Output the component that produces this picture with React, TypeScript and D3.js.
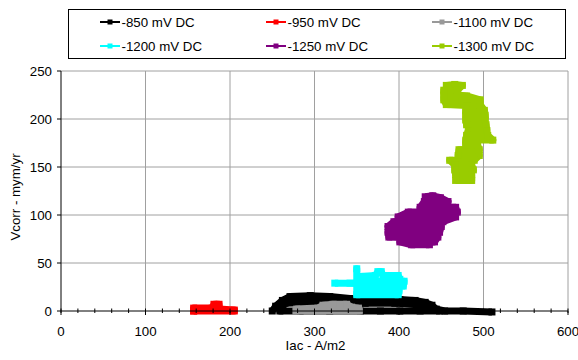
import React from "react";
import * as d3 from "d3";

// Iac (A/m2) vs corrosion rate (mym/yr) for each DC polarisation level
type Pt = [number, number];

const seriesNames = ["-850 mV DC", "-950 mV DC", "-1100 mV DC", "-1200 mV DC", "-1250 mV DC", "-1300 mV DC"];
const seriesColors = ["#000000", "#ff0000", "#999999", "#00ffff", "#800080", "#99cc00"];

const dc850: Pt[] = [
  [250, 0], [254, 5], [262, 11], [271, 15], [295, 16], [318, 15], [342, 13], [372, 12], [401, 12],
  [419, 11], [431, 9], [439, 6], [444, 2], [448, 0], [425, 0], [401, 0], [378, 0], [354, 0], [318, 0],
  [283, 0], [259, 0], [265, 8], [306, 9], [336, 9], [360, 8], [395, 8], [425, 7], [434, 4], [454, 0],
  [476, 0], [510, -1],
];

const dc950: Pt[] = [
  [157, 0], [205, 0], [205, 1], [187, 2], [187, 7], [181, 7], [179, 3], [157, 3], [157, 0],
];

const dc1100: Pt[] = [
  [278, 0], [353, 0], [352, 3], [344, 4], [338, 7], [322, 7], [310, 6], [304, 3], [279, 2], [290, 1],
];

const dc1200: Pt[] = [
  [324, 29], [342, 29], [350, 29], [350, 44], [350, 17], [399, 17], [400, 21], [352, 21], [352, 26],
  [405, 26], [406, 31], [354, 31], [354, 36], [372, 37], [375, 41], [379, 41], [381, 37], [399, 37],
  [401, 33],
];

const dc1250: Pt[] = [
  [431, 119], [440, 120], [449, 118], [458, 114], [444, 113], [430, 114], [425, 108], [446, 109],
  [467, 108], [469, 103], [440, 104], [411, 103], [399, 98], [430, 97], [467, 98], [452, 93],
  [420, 92], [394, 93], [387, 88], [420, 87], [450, 88], [448, 82], [418, 83], [387, 82], [388, 77],
  [416, 76], [446, 77], [442, 72], [420, 71], [401, 72], [415, 69], [436, 69],
];

const dc1300: Pt[] = [
  [456, 235], [466, 236], [475, 235], [469, 230], [453, 230], [453, 225], [470, 225], [480, 224],
  [496, 220], [475, 219], [453, 220], [456, 215], [480, 214], [496, 215], [501, 209], [479, 209],
  [479, 204], [502, 204], [502, 199], [479, 199], [480, 194], [503, 194], [504, 188], [482, 188],
  [480, 183], [505, 183], [511, 178], [479, 178], [479, 173], [493, 173], [495, 168], [471, 168],
  [470, 162], [495, 162], [489, 157], [460, 157], [466, 152], [486, 152], [488, 147], [466, 147],
  [467, 142], [486, 142], [486, 136], [467, 136],
];

const seriesData: Pt[][] = [dc850, dc950, dc1100, dc1200, dc1250, dc1300];

const xTicks = [0, 100, 200, 300, 400, 500, 600];
const yTicks = [0, 50, 100, 150, 200, 250];
const xMinorTicks = d3.range(0, 601, 20);

const W = 578;
const H = 360;
const FONT = "'Liberation Sans', Arial, sans-serif";
const FS = 13.3;

export default function App() {
  const x = d3.scaleLinear().domain([0, 600]).range([61, 568]);
  const y = d3.scaleLinear().domain([0, 250]).range([311, 71]);
  const line = d3
    .line<Pt>()
    .x((d) => x(d[0]))
    .y((d) => y(d[1]));

  const mk = 7;
  const legendCols = [100, 266, 432];
  const legendRows = [22, 46];

  return (
    <svg
      width={W}
      height={H}
      style={{ position: "absolute", left: 0, top: 0, background: "#fff" }}
      fontFamily={FONT}
    >
      <rect x={0} y={0} width={W} height={H} fill="#fff" />

      {/* grid */}
      {xTicks.slice(1).map((t) => (
        <line key={"gx" + t} x1={x(t)} x2={x(t)} y1={y(250)} y2={y(0)} stroke="#a0a0a0" strokeWidth={1} />
      ))}
      {yTicks.slice(1).map((t) => (
        <line key={"gy" + t} x1={x(0)} x2={x(600)} y1={y(t)} y2={y(t)} stroke="#a0a0a0" strokeWidth={1} />
      ))}

      {/* series */}
      {seriesData.map((data, i) => (
        <g key={"s" + i}>
          <path
            d={line(data) || ""}
            fill="none"
            stroke={seriesColors[i]}
            strokeWidth={7}
            strokeLinejoin="round"
          />
          {data.map((d, j) => (
            <rect
              key={j}
              x={x(d[0]) - mk / 2}
              y={y(d[1]) - mk / 2}
              width={mk}
              height={mk}
              fill={seriesColors[i]}
            />
          ))}
        </g>
      ))}

      {/* axes */}
      <line x1={x(0)} x2={x(0)} y1={y(250)} y2={y(0)} stroke="#000" strokeWidth={1} />
      <line x1={x(0)} x2={x(600)} y1={y(0)} y2={y(0)} stroke="#000" strokeWidth={1} />
      {yTicks.map((t) => (
        <g key={"yt" + t}>
          <line x1={x(0) - 4} x2={x(0)} y1={y(t)} y2={y(t)} stroke="#000" />
          <text x={52} y={y(t) + 4.7} textAnchor="end" fontSize={FS} fill="#000">
            {t}
          </text>
        </g>
      ))}
      {xMinorTicks.map((t) => (
        <line key={"xm" + t} x1={x(t)} x2={x(t)} y1={y(0) - 2.5} y2={y(0) + 2} stroke="#000" />
      ))}
      {xTicks.map((t) => (
        <g key={"xt" + t}>
          <line x1={x(t)} x2={x(t)} y1={y(0)} y2={y(0) + 4} stroke="#000" />
          <text x={x(t)} y={336} textAnchor="middle" fontSize={FS} fill="#000">
            {t}
          </text>
        </g>
      ))}

      {/* axis titles */}
      <text x={315.5} y={350} textAnchor="middle" fontSize={FS} fill="#000">
        Iac - A/m2
      </text>
      <text
        transform={`translate(19.5,197) rotate(-90)`}
        textAnchor="middle"
        fontSize={FS}
        fill="#000"
      >
        Vcorr - mym/yr
      </text>

      {/* legend */}
      <rect x={68.5} y={9.5} width={497} height={49} fill="#fff" stroke="#000" strokeWidth={1} />
      {seriesNames.map((name, i) => {
        const cx = legendCols[i % 3];
        const cy = legendRows[Math.floor(i / 3)];
        return (
          <g key={"lg" + i}>
            <line x1={cx} x2={cx + 20} y1={cy} y2={cy} stroke={seriesColors[i]} strokeWidth={2} />
            <rect x={cx + 10 - 2.5} y={cy - 2.5} width={5} height={5} fill={seriesColors[i]} />
            <text x={cx + 21.5} y={cy + 4.7} fontSize={FS} fill="#000">
              {name}
            </text>
          </g>
        );
      })}
    </svg>
  );
}
